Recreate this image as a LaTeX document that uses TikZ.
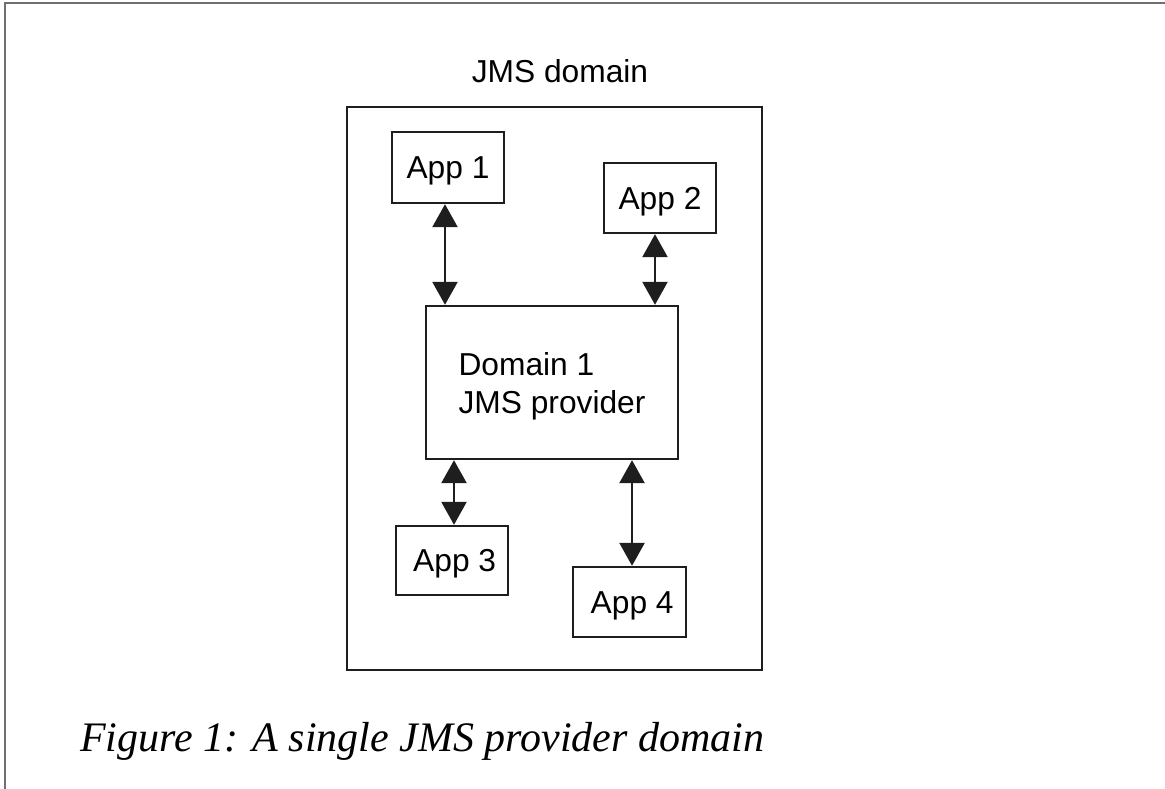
\documentclass[tikz,border=0pt]{standalone}
\usepackage{fontspec}
\setmainfont{Liberation Sans}
\newfontfamily\capfont{Liberation Serif}
\usetikzlibrary{arrows.meta}
\definecolor{ink}{HTML}{1E1E1E}
\definecolor{framegray}{HTML}{707070}
\begin{document}
\begin{tikzpicture}[x=0.75pt,y=-0.75pt,
  box/.style={draw=ink, line width=1.8pt, rectangle, inner sep=0pt,
    font=\fontsize{23.8pt}{28.5pt}\selectfont},
  appbox/.style={box, text height=17pt, text depth=0pt},
  dbl/.style={draw=ink, line width=1.9pt,
    {Triangle[width=18.75pt,length=17.25pt]}-{Triangle[width=18.75pt,length=17.25pt]}},
  lbl/.style={font=\fontsize{23.8pt}{28.5pt}\selectfont, inner sep=0pt}
]
\useasboundingbox (0,0) rectangle (1165,789);
% page frame (top and left edges only)
\draw[framegray, line width=1.6pt] (5,789) -- (5,3) -- (1165,3);

% JMS domain
\node[box, minimum width=415*0.75pt, minimum height=563*0.75pt] (jms) at (554.5,388.5) {};
\node[lbl, anchor=base] (jmslbl) at (560,82) {JMS domain};

% apps
\node[appbox, minimum width=112*0.75pt, minimum height=71*0.75pt] (app1) at (448,167.5) {App 1};
\node[appbox, minimum width=112*0.75pt, minimum height=70*0.75pt] (app2) at (660,198) {App 2};
\node[appbox, minimum width=112*0.75pt, minimum height=69*0.75pt] (app3) at (452,560.5) {\hspace*{4pt}App 3};
\node[appbox, minimum width=113*0.75pt, minimum height=70*0.75pt] (app4) at (629.5,602) {\hspace*{4pt}App 4};

% provider
\node[box, align=left, minimum width=252*0.75pt, minimum height=153*0.75pt] (dom) at (552,382.5)
  {\rule{0pt}{22.3pt}Domain 1\\JMS provider};

% connectors
\coordinate (c1) at ([xshift=-2.25pt]app1.south);
\coordinate (c2) at ([xshift=-3.75pt]app2.south);
\coordinate (c3) at ([xshift=1.5pt]app3.north);
\coordinate (c4) at ([xshift=1.9pt]app4.north);
\draw[dbl] (c1) -- (c1 |- dom.north);
\draw[dbl] (c2) -- (c2 |- dom.north);
\draw[dbl] (c3 |- dom.south) -- (c3);
\draw[dbl] (c4 |- dom.south) -- (c4);

% caption
\node[anchor=base west, inner sep=0pt, font=\capfont\itshape\fontsize{31.5pt}{36pt}\selectfont] (cap) at (80,751)
  {Figure 1: A single JMS provider domain};
\end{tikzpicture}
\end{document}
